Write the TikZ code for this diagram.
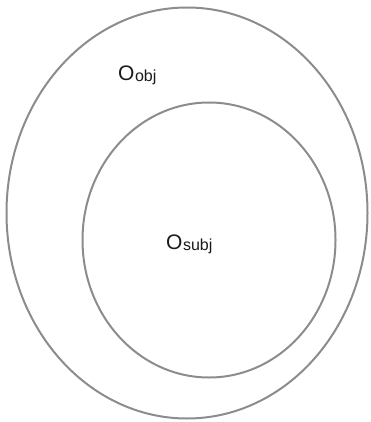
\documentclass[tikz,border=0pt]{standalone}
\usepackage{fontspec}
\setmainfont{Liberation Sans}
\usetikzlibrary{shapes.geometric}
\definecolor{rim}{HTML}{8C8C8C}
\definecolor{ink}{HTML}{1A1A1A}
\newcommand{\oset}[1]{O\kern0.5pt\raisebox{-1pt}{\fontsize{16}{16}\selectfont #1}}

\begin{document}
\begin{tikzpicture}[x=1pt, y=-1pt,
  set/.style={ellipse, draw=rim, line width=2pt, inner sep=0pt},
  lbl/.style={text=ink, inner sep=0pt, anchor=base west, font=\fontsize{21}{21}\selectfont}]
\useasboundingbox (0,0) rectangle (370,422);
\node[set, minimum width=361pt, minimum height=411pt] (obj) at (187,213) {};
\node[set, minimum width=253pt, minimum height=275pt] (subj) at (209,240) {};
\node[lbl] (objlbl) at (118,81) {\oset{obj}};
\node[lbl] (subjlbl) at (166,249) {\oset{subj}};
\end{tikzpicture}
\end{document}
